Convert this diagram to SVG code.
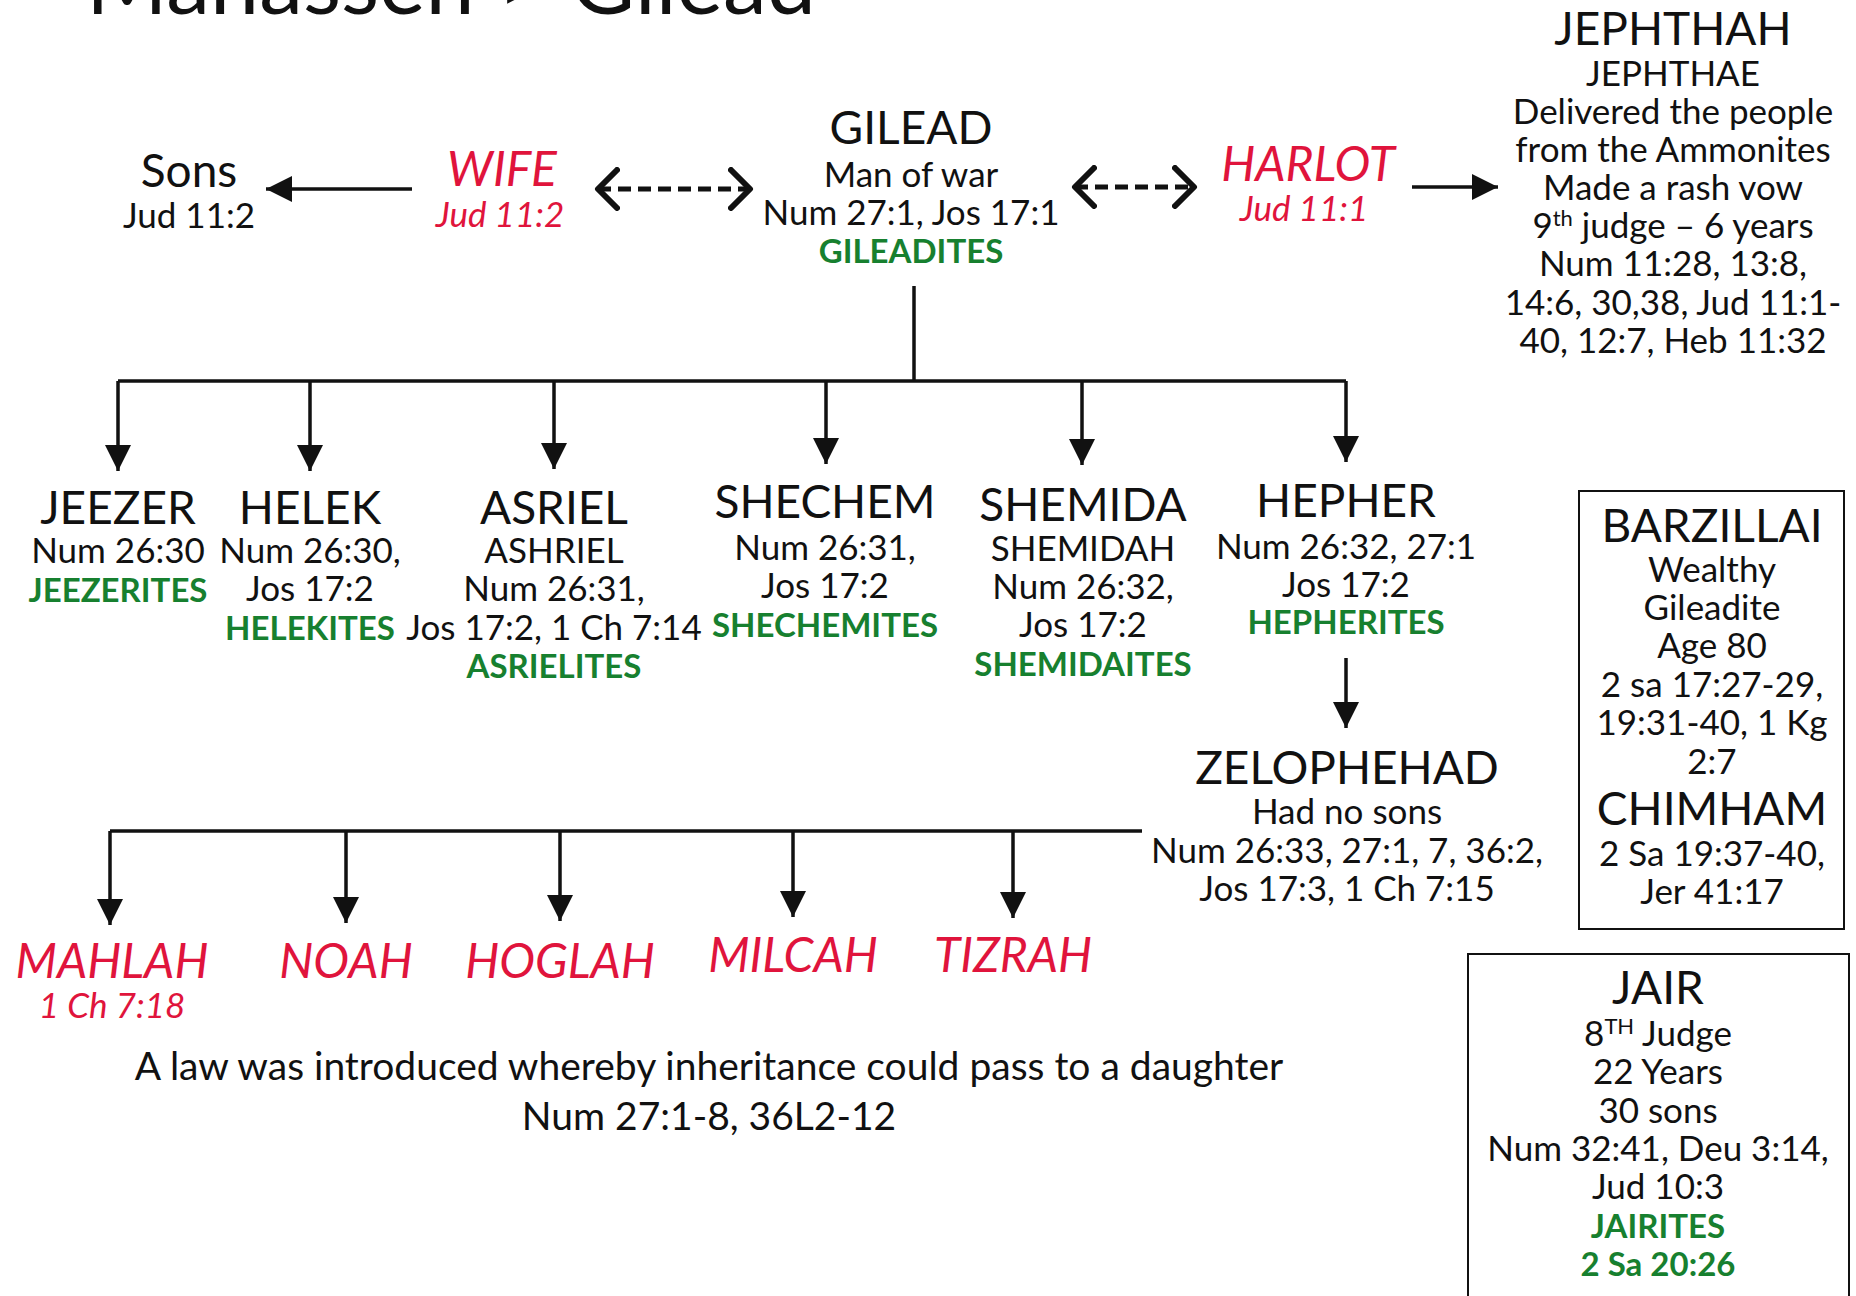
<svg xmlns="http://www.w3.org/2000/svg" width="1856" height="1296" viewBox="0 0 1856 1296">
<style>
text{font-family:Lato,"Liberation Sans",sans-serif;text-anchor:middle;fill:#111}
.t{font-size:88px}
.n{font-size:46px}
.s{font-size:35px}
.l{font-size:39px}
.g{font-size:33px;font-weight:bold;fill:#17802f}
.r{fill:#e0143c;font-style:italic}
.rn{font-size:48px}
.ln{stroke:#111;stroke-width:3.5;fill:none}
.da{stroke:#111;stroke-width:5;fill:none;stroke-dasharray:13 7}
.box{fill:none;stroke:#111;stroke-width:2}
</style>
<defs>
<marker id="ah" markerUnits="userSpaceOnUse" markerWidth="26" markerHeight="26" refX="26" refY="13" orient="auto">
<path d="M0,0 L26,13 L0,26 z" fill="#111"/>
</marker>
<marker id="ch" markerUnits="userSpaceOnUse" markerWidth="30" markerHeight="44" refX="22" refY="22" orient="auto-start-reverse">
<path d="M3,3 L22,22 L3,41" fill="none" stroke="#111" stroke-width="6" stroke-linecap="round" stroke-linejoin="round"/>
</marker>
</defs>
<rect width="1856" height="1296" fill="#fff"/>
<text class="t" x="451" y="14">Manasseh &gt; Gilead</text>

<g id="connectors">
<line class="ln" x1="412" y1="189" x2="266" y2="189" marker-end="url(#ah)"/>
<line class="da" x1="598" y1="189" x2="750" y2="189" marker-start="url(#ch)" marker-end="url(#ch)"/>
<line class="da" x1="1075" y1="187" x2="1194" y2="187" marker-start="url(#ch)" marker-end="url(#ch)"/>
<line class="ln" x1="1412" y1="187" x2="1498" y2="187" marker-end="url(#ah)"/>
<line class="ln" x1="914" y1="286" x2="914" y2="381"/>
<line class="ln" x1="118" y1="381" x2="1346" y2="381"/>
<line class="ln" x1="118" y1="381" x2="118" y2="471" marker-end="url(#ah)"/>
<line class="ln" x1="310" y1="381" x2="310" y2="471" marker-end="url(#ah)"/>
<line class="ln" x1="554" y1="381" x2="554" y2="469" marker-end="url(#ah)"/>
<line class="ln" x1="826" y1="381" x2="826" y2="464" marker-end="url(#ah)"/>
<line class="ln" x1="1082" y1="381" x2="1082" y2="465" marker-end="url(#ah)"/>
<line class="ln" x1="1346" y1="381" x2="1346" y2="462" marker-end="url(#ah)"/>
<line class="ln" x1="1346" y1="658" x2="1346" y2="728" marker-end="url(#ah)"/>
<line class="ln" x1="110" y1="831" x2="1142" y2="831"/>
<line class="ln" x1="110" y1="831" x2="110" y2="925" marker-end="url(#ah)"/>
<line class="ln" x1="346" y1="831" x2="346" y2="923" marker-end="url(#ah)"/>
<line class="ln" x1="560" y1="831" x2="560" y2="921" marker-end="url(#ah)"/>
<line class="ln" x1="793" y1="831" x2="793" y2="917" marker-end="url(#ah)"/>
<line class="ln" x1="1013" y1="831" x2="1013" y2="918" marker-end="url(#ah)"/>
</g>

<g id="sons">
<text class="n" x="189" y="187">Sons</text>
<text class="s" x="189" y="228">Jud 11:2</text>
</g>
<g id="wife">
<text class="rn r" x="502" y="186">WIFE</text>
<text class="s r" x="500" y="227">Jud 11:2</text>
</g>
<g id="gilead">
<text class="n" x="911" y="144">GILEAD</text>
<text class="s" x="911" y="187">Man of war</text>
<text class="s" x="911" y="225">Num 27:1, Jos 17:1</text>
<text class="g" x="911" y="263">GILEADITES</text>
</g>
<g id="harlot">
<text class="rn r" x="1308" y="181">HARLOT</text>
<text class="s r" x="1304" y="221">Jud 11:1</text>
</g>
<g id="jephthah">
<text class="n" x="1673" y="45">JEPHTHAH</text>
<text class="s" x="1673" y="86">JEPHTHAE</text>
<text class="s" x="1673" y="124">Delivered the people</text>
<text class="s" x="1673" y="162">from the Ammonites</text>
<text class="s" x="1673" y="200">Made a rash vow</text>
<text class="s" x="1673" y="238">9<tspan dy="-12" font-size="22">th</tspan><tspan dy="12"> judge – 6 years</tspan></text>
<text class="s" x="1673" y="276">Num 11:28, 13:8,</text>
<text class="s" x="1673" y="315">14:6, 30,38, Jud 11:1-</text>
<text class="s" x="1673" y="353">40, 12:7, Heb 11:32</text>
</g>

<g id="jeezer">
<text class="n" x="118" y="524">JEEZER</text>
<text class="s" x="118" y="563">Num 26:30</text>
<text class="g" x="118" y="602">JEEZERITES</text>
</g>
<g id="helek">
<text class="n" x="310" y="524">HELEK</text>
<text class="s" x="310" y="563">Num 26:30,</text>
<text class="s" x="310" y="601">Jos 17:2</text>
<text class="g" x="310" y="640">HELEKITES</text>
</g>
<g id="asriel">
<text class="n" x="554" y="524">ASRIEL</text>
<text class="s" x="554" y="563">ASHRIEL</text>
<text class="s" x="554" y="601">Num 26:31,</text>
<text class="s" x="554" y="640">Jos 17:2, 1 Ch 7:14</text>
<text class="g" x="554" y="678">ASRIELITES</text>
</g>
<g id="shechem">
<text class="n" x="825" y="518">SHECHEM</text>
<text class="s" x="825" y="560">Num 26:31,</text>
<text class="s" x="825" y="598">Jos 17:2</text>
<text class="g" x="825" y="637">SHECHEMITES</text>
</g>
<g id="shemida">
<text class="n" x="1083" y="521">SHEMIDA</text>
<text class="s" x="1083" y="561">SHEMIDAH</text>
<text class="s" x="1083" y="599">Num 26:32,</text>
<text class="s" x="1083" y="637">Jos 17:2</text>
<text class="g" x="1083" y="676">SHEMIDAITES</text>
</g>
<g id="hepher">
<text class="n" x="1346" y="517">HEPHER</text>
<text class="s" x="1346" y="559">Num 26:32, 27:1</text>
<text class="s" x="1346" y="597">Jos 17:2</text>
<text class="g" x="1346" y="634">HEPHERITES</text>
</g>
<g id="zelophehad">
<text class="n" x="1347" y="784">ZELOPHEHAD</text>
<text class="s" x="1347" y="824">Had no sons</text>
<text class="s" x="1347" y="863">Num 26:33, 27:1, 7, 36:2,</text>
<text class="s" x="1347" y="901">Jos 17:3, 1 Ch 7:15</text>
</g>

<g id="mahlah">
<text class="rn r" x="112" y="978">MAHLAH</text>
<text class="s r" x="112" y="1018">1 Ch 7:18</text>
</g>
<g id="noah"><text class="rn r" x="346" y="978">NOAH</text></g>
<g id="hoglah"><text class="rn r" x="560" y="978">HOGLAH</text></g>
<g id="milcah"><text class="rn r" x="793" y="972">MILCAH</text></g>
<g id="tizrah"><text class="rn r" x="1013" y="972">TIZRAH</text></g>

<g id="law">
<text class="l" x="709" y="1080">A law was introduced whereby inheritance could pass to a daughter</text>
<text class="l" x="709" y="1130">Num 27:1-8, 36L2-12</text>
</g>

<g id="barzillai">
<rect class="box" x="1579" y="491" width="265" height="438"/>
<text class="n" x="1712" y="542">BARZILLAI</text>
<text class="s" x="1712" y="582">Wealthy</text>
<text class="s" x="1712" y="620">Gileadite</text>
<text class="s" x="1712" y="658">Age 80</text>
<text class="s" x="1712" y="697">2 sa 17:27-29,</text>
<text class="s" x="1712" y="735">19:31-40, 1 Kg</text>
<text class="s" x="1712" y="774">2:7</text>
<text class="n" x="1712" y="825">CHIMHAM</text>
<text class="s" x="1712" y="866">2 Sa 19:37-40,</text>
<text class="s" x="1712" y="904">Jer 41:17</text>
</g>

<g id="jair">
<rect class="box" x="1468" y="954" width="381" height="360"/>
<text class="n" x="1658" y="1004">JAIR</text>
<text class="s" x="1658" y="1046">8<tspan dy="-12" font-size="22">TH</tspan><tspan dy="12"> Judge</tspan></text>
<text class="s" x="1658" y="1084">22 Years</text>
<text class="s" x="1658" y="1123">30 sons</text>
<text class="s" x="1658" y="1161">Num 32:41, Deu 3:14,</text>
<text class="s" x="1658" y="1199">Jud 10:3</text>
<text class="g" x="1658" y="1238">JAIRITES</text>
<text class="g" x="1658" y="1276">2 Sa 20:26</text>
</g>
</svg>
